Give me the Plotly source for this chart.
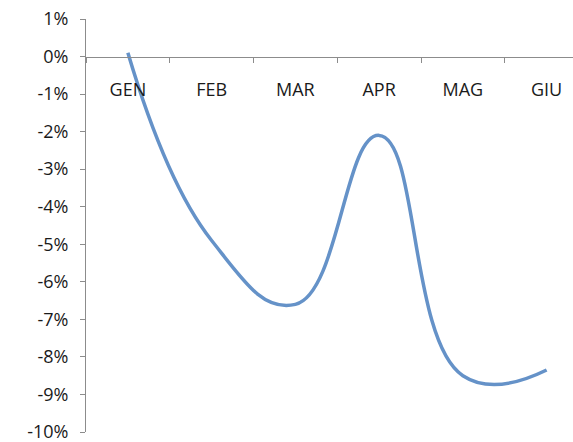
import plotly.graph_objects as go

months = ["GEN", "FEB", "MAR", "APR", "MAG", "GIU"]
values = [0.001, -0.049, -0.066, -0.021, -0.085, -0.0835]
y_ticks = [0.01, 0.0, -0.01, -0.02, -0.03, -0.04, -0.05, -0.06, -0.07, -0.08, -0.09, -0.10]
y_labels = ["1%", "0%", "-1%", "-2%", "-3%", "-4%", "-5%", "-6%", "-7%", "-8%", "-9%", "-10%"]

fig = go.Figure()
fig.add_trace(go.Scatter(
    x=months, y=values, mode="lines",
    line=dict(color="#6592c8", width=3.5, shape="spline", smoothing=1.3),
    hoverinfo="skip",
))

fig.update_layout(
    width=573, height=442,
    margin=dict(l=86, r=0, t=19, b=10),
    paper_bgcolor="white", plot_bgcolor="white",
    showlegend=False,
    font=dict(family="Open Sans, Liberation Sans, sans-serif", size=18, color="#1a1a1a"),
)
fig.update_xaxes(
    type="category",
    range=[-0.5, 5.315],
    anchor="free", position=10 / 11,
    showline=True, linecolor="#8c8c8c", linewidth=1,
    ticks="outside", ticklen=5, tickcolor="#8c8c8c", tickson="boundaries",
    ticklabelstandoff=17,
    ticklabeloverflow="allow",
    showgrid=False, zeroline=False,
)
fig.update_yaxes(
    range=[-0.10, 0.01],
    tickvals=y_ticks, ticktext=y_labels,
    showline=True, linecolor="#8c8c8c", linewidth=1,
    ticks="outside", ticklen=5, tickcolor="#8c8c8c",
    ticklabelstandoff=8,
    ticklabeloverflow="allow",
    showgrid=False, zeroline=False,
)

fig.write_html("out.html")
